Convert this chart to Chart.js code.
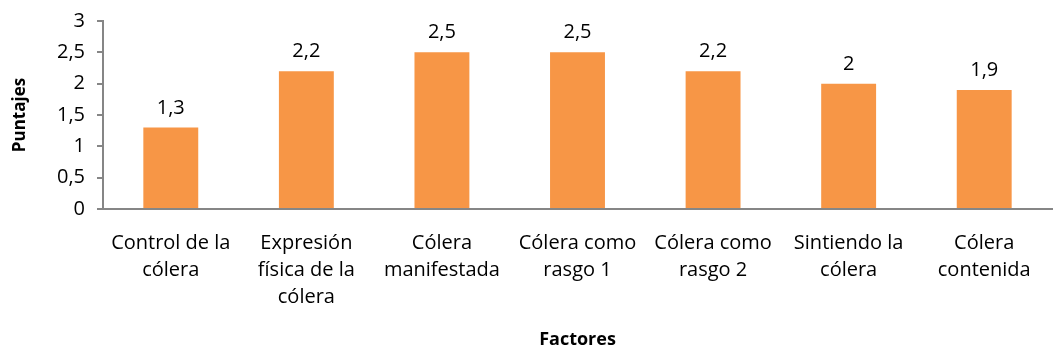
<!DOCTYPE html>
<html>
<head>
<meta charset="utf-8">
<script src="https://cdn.jsdelivr.net/npm/chart.js@4"></script>
<style>
    html, body { margin: 0; padding: 0; background: #fff; }
    #wrap { width: 1053px; height: 351px; }
</style>
</head>
<body>
<div id="wrap"><canvas id="factorsChart"></canvas></div>
<script>
const factors = [
    ['Control de la', 'cólera'],
    ['Expresión', 'física de la', 'cólera'],
    ['Cólera', 'manifestada'],
    ['Cólera como', 'rasgo 1'],
    ['Cólera como', 'rasgo 2'],
    ['Sintiendo la', 'cólera'],
    ['Cólera', 'contenida']
];
const scores = [1.3, 2.2, 2.5, 2.5, 2.2, 2, 1.9];
const yTicks = [0, 0.5, 1, 1.5, 2, 2.5, 3];

const FONT = '"Open Sans", sans-serif';
const AXIS_GREY = '#868686';

// decimal comma, like the rest of the labels
function fmt(v) {
    return String(v).replace('.', ',');
}

// value written above each bar
const barValues = {
    id: 'barValues',
    afterDatasetsDraw(chart) {
        const ctx = chart.ctx;
        const meta = chart.getDatasetMeta(0);
        ctx.save();
        ctx.font = '20px ' + FONT;
        ctx.fillStyle = '#000';
        ctx.textAlign = 'center';
        ctx.textBaseline = 'alphabetic';
        meta.data.forEach((bar, i) => {
            ctx.fillText(fmt(scores[i]), bar.x, bar.y - 14);
        });
        ctx.restore();
    }
};

const ctx = document.getElementById('factorsChart').getContext('2d');
new Chart(ctx, {
    type: 'bar',
    data: {
        labels: factors,
        datasets: [{
            data: scores,
            backgroundColor: '#F79646',
            barPercentage: 0.81,
            categoryPercentage: 0.5
        }]
    },
    options: {
        responsive: true,
        maintainAspectRatio: false,
        animation: false,
        layout: { padding: { top: 21, right: 1, bottom: 0, left: 0 } },
        plugins: {
            legend: { display: false },
            tooltip: { enabled: false }
        },
        scales: {
            x: {
                grid: { display: false },
                border: { display: true, color: AXIS_GREY, width: 2 },
                ticks: {
                    color: '#000',
                    font: { family: FONT, size: 20, lineHeight: 1.35 },
                    padding: 13,
                    maxRotation: 0,
                    autoSkip: false
                },
                title: {
                    display: true,
                    text: 'Factores',
                    color: '#000',
                    font: { family: FONT, size: 18, weight: 'bold' },
                    padding: { top: 0, bottom: 0 }
                },
                afterFit(scale) { scale.height = 142; }
            },
            y: {
                min: 0,
                max: 3,
                afterBuildTicks(scale) {
                    scale.ticks = yTicks.map(v => ({ value: v }));
                },
                grid: {
                    display: true,
                    drawOnChartArea: false,
                    drawTicks: true,
                    tickLength: 6,
                    color: AXIS_GREY,
                    lineWidth: 2
                },
                border: { display: true, color: AXIS_GREY, width: 2 },
                ticks: {
                    color: '#000',
                    font: { family: FONT, size: 20 },
                    padding: 12,
                    callback: v => fmt(v)
                },
                title: {
                    display: true,
                    text: 'Puntajes',
                    color: '#000',
                    font: { family: FONT, size: 17, weight: 'bold' },
                    padding: { top: 10, bottom: 0 }
                },
                afterFit(scale) {
                    scale.width = 103;
                    scale.paddingTop = 0;
                    scale.paddingBottom = 0;
                }
            }
        }
    },
    plugins: [barValues]
});
</script>
</body>
</html>
